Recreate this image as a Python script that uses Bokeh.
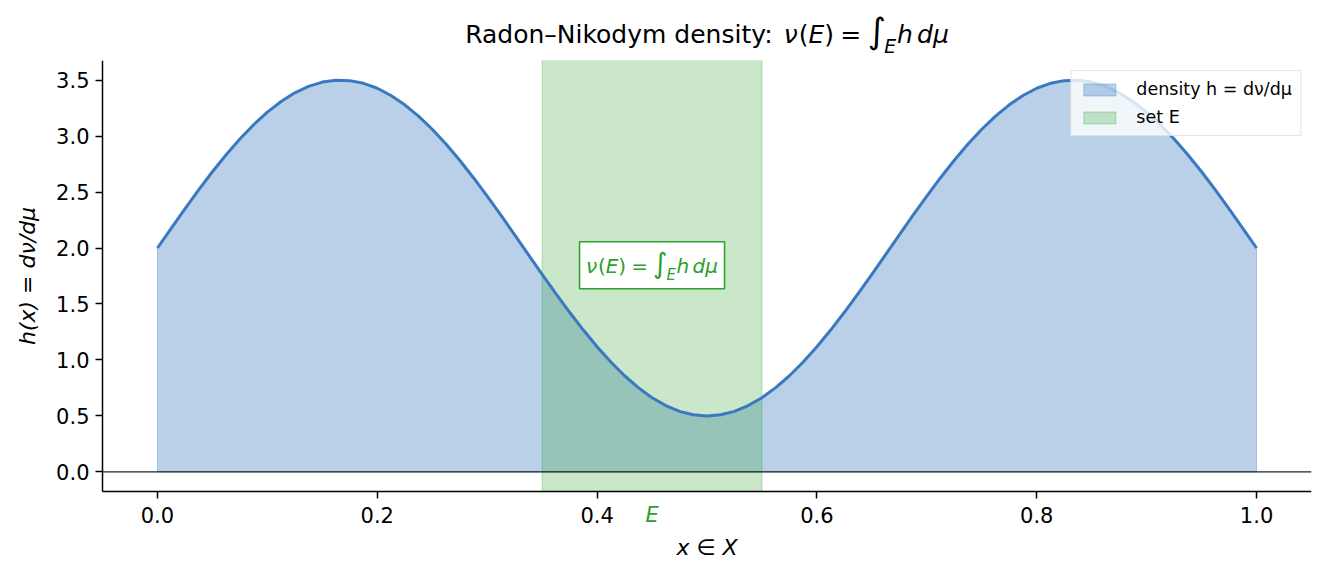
from math import pi
from bokeh.plotting import figure
from bokeh.layouts import column
from bokeh.models import Range1d, FixedTicker, Label, Legend, LegendItem, NumeralTickFormatter
from bokeh.embed import file_html
from bokeh.resources import INLINE

# ---------------- data ----------------
x_vals = [0.0, 0.0125, 0.025, 0.0375, 0.05, 0.0625, 0.075, 0.0875, 0.1, 0.1125,
          0.125, 0.1375, 0.15, 0.1625, 0.175, 0.1875, 0.2, 0.2125, 0.225, 0.2375,
          0.25, 0.2625, 0.275, 0.2875, 0.3, 0.3125, 0.325, 0.3375, 0.35, 0.3625,
          0.375, 0.3875, 0.4, 0.4125, 0.425, 0.4375, 0.45, 0.4625, 0.475, 0.4875,
          0.5, 0.5125, 0.525, 0.5375, 0.55, 0.5625, 0.575, 0.5875, 0.6, 0.6125,
          0.625, 0.6375, 0.65, 0.6625, 0.675, 0.6875, 0.7, 0.7125, 0.725, 0.7375,
          0.75, 0.7625, 0.775, 0.7875, 0.8, 0.8125, 0.825, 0.8375, 0.85, 0.8625,
          0.875, 0.8875, 0.9, 0.9125, 0.925, 0.9375, 0.95, 0.9625, 0.975, 0.9875, 1.0]
h_vals = [2.000, 2.176, 2.350, 2.519, 2.681, 2.833, 2.974, 3.101, 3.214, 3.309,
          3.386, 3.444, 3.482, 3.499, 3.495, 3.471, 3.427, 3.362, 3.279, 3.178,
          3.061, 2.929, 2.784, 2.628, 2.464, 2.293, 2.118, 1.941, 1.765, 1.593,
          1.426, 1.267, 1.118, 0.982, 0.859, 0.753, 0.663, 0.593, 0.541, 0.510,
          0.500, 0.510, 0.541, 0.593, 0.663, 0.753, 0.859, 0.982, 1.118, 1.267,
          1.426, 1.593, 1.765, 1.941, 2.118, 2.293, 2.464, 2.628, 2.784, 2.929,
          3.061, 3.178, 3.279, 3.362, 3.427, 3.471, 3.495, 3.499, 3.482, 3.444,
          3.386, 3.309, 3.214, 3.101, 2.974, 2.833, 2.681, 2.519, 2.350, 2.176, 2.000]
set_E = [0.35, 0.55]
x_ticks = [0.0, 0.2, 0.4, 0.6, 0.8, 1.0]
y_ticks = [0.0, 0.5, 1.0, 1.5, 2.0, 2.5, 3.0, 3.5]
x_limits = [-0.05, 1.05]
y_limits = [-0.175, 3.675]          # axes box (spines)
x_label = "x ∈ X"
y_label = "h(x) = dν/dμ"
legend_labels = ["density h = dν/dμ", "set E"]

BLUE = "#3a78c0"
GREEN = "#2ca02c"
FONT = "DejaVu Sans"
BL = 0.37   # baseline correction (em) for Bokeh's alphabetic text placement

# The drawing frame is larger than the axes box (spines) so that the axes,
# which are fixed at the box edges, and all their texts lie inside the frame.
BOX_LEFT = 102.0
BOX_W, BOX_H = 1209.0, 431.0
PXX = BOX_W / (x_limits[1] - x_limits[0])
PXY = BOX_H / (y_limits[1] - y_limits[0])
view_left = x_limits[0] - BOX_LEFT / PXX
view_bottom = y_limits[0] - 85.0 / PXY

# ---------------- title strip (frame = canvas px 0..1311) ----------------
tfig = figure(width=1325, height=60, output_backend="svg", toolbar_location=None,
              x_range=Range1d(0, 1311), y_range=Range1d(0, 60),
              x_axis_type=None, y_axis_type=None, min_border=0,
              min_border_left=0, min_border_right=14, min_border_top=0, min_border_bottom=0)
tfig.outline_line_color = None
tfig.xgrid.visible = False
tfig.ygrid.visible = False
tfig.title.visible = False

# ---------------- main plot ----------------
p = figure(width=1325, height=516, output_backend="svg", toolbar_location=None,
           x_range=Range1d(view_left, x_limits[1]), y_range=Range1d(view_bottom, y_limits[1]),
           min_border=0, min_border_left=0, min_border_right=14, min_border_top=0,
           min_border_bottom=0)
p.title.visible = False
p.outline_line_color = None
p.xgrid.visible = False
p.ygrid.visible = False

xs_fill = [x_vals[0]] + x_vals + [x_vals[-1]]
ys_fill = [0.0] + h_vals + [0.0]
r_fill = p.patch(xs_fill, ys_fill, fill_color=BLUE, fill_alpha=0.35,
                 line_color=BLUE, line_alpha=0.35, line_width=1)
r_set = p.quad(left=[set_E[0]], right=[set_E[1]], bottom=[y_limits[0]], top=[y_limits[1]],
               fill_color=GREEN, fill_alpha=0.25, line_color=GREEN, line_alpha=0.3, line_width=1)
p.line(x_vals, h_vals, line_color=BLUE, line_width=3, line_join="round")
# horizontal reference line at h = 0 across the axes box
p.segment(x0=[x_limits[0]], y0=[0], x1=[x_limits[1]], y1=[0],
          line_color="black", line_width=1.2, line_alpha=0.85)

for ax in (p.xaxis[0], p.yaxis[0]):
    ax.axis_line_color = "black"
    ax.axis_line_width = 1.5
    ax.major_tick_line_color = "black"
    ax.major_tick_line_width = 1.5
    ax.major_tick_out = 7
    ax.major_tick_in = 0
    ax.minor_tick_line_color = None
    ax.major_label_text_font = FONT
    ax.major_label_text_font_size = "21px"
    ax.major_label_text_color = "black"
p.xaxis.ticker = FixedTicker(ticks=x_ticks)
p.yaxis.ticker = FixedTicker(ticks=y_ticks)
p.xaxis.formatter = NumeralTickFormatter(format="0.0")
p.yaxis.formatter = NumeralTickFormatter(format="0.0")
p.xaxis.fixed_location = y_limits[0]
p.yaxis.fixed_location = x_limits[0]
p.xaxis.bounds = (x_limits[0], x_limits[1])
p.yaxis.bounds = (y_limits[0], y_limits[1])
p.xaxis.major_label_standoff = 8
p.yaxis.major_label_standoff = 6

# axis titles (centred on the axes box)
p.add_layout(Label(x=sum(x_limits) / 2, y=y_limits[0], y_offset=-64 + BL * 22, text=x_label,
                   text_font=FONT, text_font_size="22px", text_font_style="italic",
                   text_color="black", text_align="center", text_baseline="alphabetic"))
p.add_layout(Label(x=x_limits[0], y=sum(y_limits) / 2, x_offset=-(BOX_LEFT - 35) - BL * 22,
                   text=y_label, angle=pi / 2,
                   text_font=FONT, text_font_size="22px", text_font_style="italic",
                   text_color="black", text_align="center", text_baseline="alphabetic"))

legend = Legend(items=[LegendItem(label=legend_labels[0], renderers=[r_fill]),
                       LegendItem(label=legend_labels[1], renderers=[r_set])],
                location="top_right", margin=10, padding=8, spacing=8,
                glyph_width=40, glyph_height=15, label_standoff=17,
                label_text_font=FONT, label_text_font_size="17.5px", label_text_color="black",
                background_fill_alpha=0.8, border_line_color="#cccccc", border_line_width=1)
p.add_layout(legend)

# ---------------- rich (math-like) text helper ----------------
ADV = {"R": .695, "a": .613, "d": .635, "o": .612, "n": .634, "–": .5, "N": .748,
       "i": .278, "k": .579, "y": .592, "m": .974, " ": .318, "e": .615, "s": .521,
       "t": .392, ":": .337, "(": .39, ")": .39, "=": .838, "∫": .52, "ν": .592,
       "E": .632, "h": .634, "μ": .636}


def tw(s, size):
    return sum(ADV.get(c, 0.6) for c in s) * size


def math_pieces():
    # (text, italic, scale, dy_em, gap_after_em)
    return [("ν", True, 1, 0, 0), ("(", False, 1, 0, 0), ("E", True, 1, 0, 0),
            (")", False, 1, 0, 0.25), ("=", False, 1, 0, 0.25), ("∫", False, 1.4, 0.0, -0.05),
            ("E", True, 0.75, -0.38, 0.03), ("h", True, 1, 0, 0.17), ("d", True, 1, 0, 0),
            ("μ", True, 1, 0, 0)]


def place(fig, pieces, size, color, x, y, base_dy):
    total = sum(tw(t, size * sc) + g * size for t, it, sc, dy, g in pieces)
    cur = -total / 2.0
    for t, it, sc, dy, g in pieces:
        fs = size * sc
        fig.add_layout(Label(x=x, y=y, x_offset=cur, y_offset=base_dy + dy * size + BL * fs,
                             text=t, text_font=FONT, text_font_size=f"{fs:.1f}px",
                             text_font_style="italic" if it else "normal",
                             text_color=color, text_align="left",
                             text_baseline="alphabetic"))
        cur += tw(t, fs) + g * size


# title: centred over the axes box, baseline 16.5 px above the strip bottom
title_pieces = [("Radon–Nikodym density: ", False, 1, 0, 0)] + math_pieces()
place(tfig, title_pieces, 25, "black", BOX_LEFT + BOX_W / 2, 16.5, 0)

# annotation box with the formula
ANN_X, ANN_Y = 0.45, 1.845
p.rect(x=[ANN_X], y=[ANN_Y], width=145, height=47, width_units="screen", height_units="screen",
       fill_color="white", line_color=GREEN, line_width=1.5)
place(p, math_pieces(), 20, GREEN, ANN_X, ANN_Y, -8)

# "E" marker under the x axis
p.add_layout(Label(x=sum(set_E) / 2, y=y_limits[0], y_offset=-31 + BL * 21, text="E",
                   text_font=FONT, text_font_size="21px", text_font_style="italic",
                   text_color=GREEN, text_align="center", text_baseline="alphabetic"))

layout = column(tfig, p, spacing=0)
open("out.html", "w").write(file_html(layout, INLINE))
